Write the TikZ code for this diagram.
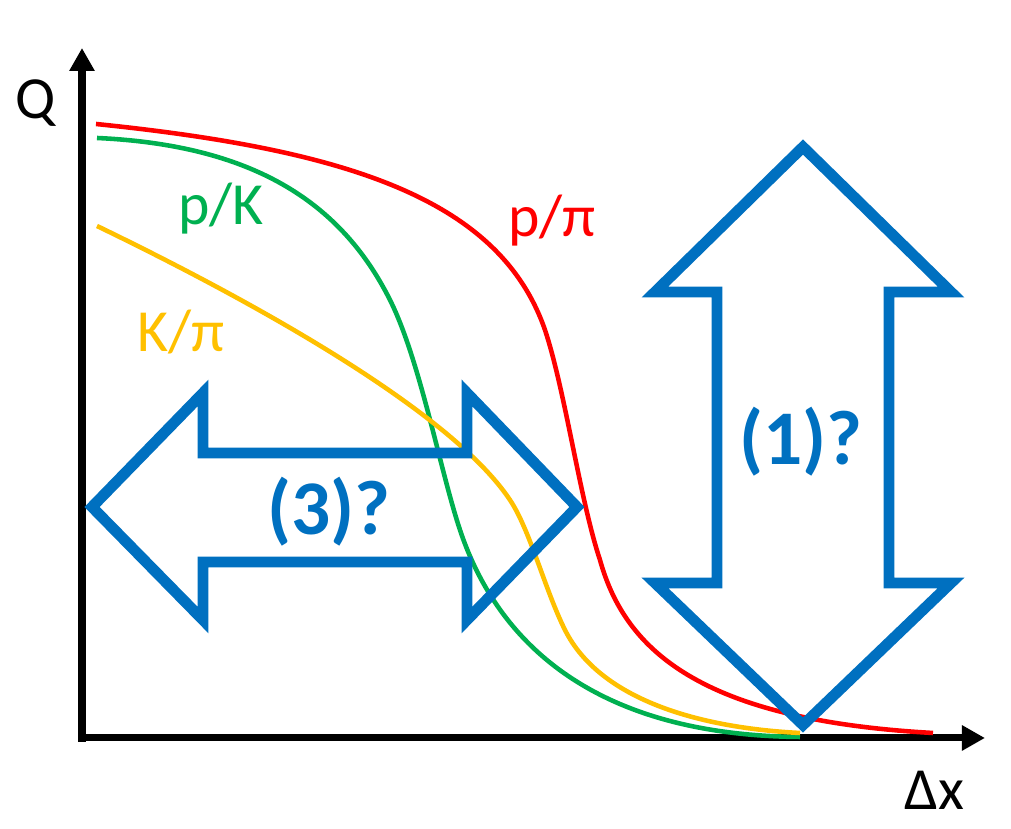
\documentclass[tikz,border=0pt]{standalone}
\usepackage{fontspec}
\setmainfont{Carlito}
\usetikzlibrary{arrows.meta}
\definecolor{ppired}{HTML}{FF0000}
\definecolor{pkgreen}{HTML}{00B050}
\definecolor{kpiorange}{HTML}{FFC000}
\definecolor{qblue}{HTML}{0070C0}
\begin{document}
\begin{tikzpicture}[x=0.1mm, y=-0.1mm,
  axis/.style={line width=2pt, -{Triangle[length=0.23cm, width=0.24cm]}},
  ratio/.style={line width=1.3pt},
  bigarrow/.style={draw=qblue, line width=3.1pt, line join=miter},
  qlabel/.style={text=qblue, font=\fontsize{22}{26}\selectfont\bfseries},
  axlabel/.style={font=\fontsize{17}{20}\selectfont, anchor=base west}]

  \useasboundingbox (0,0) rectangle (1011,829);

  \coordinate (origin) at (82,738);
  \coordinate (ytip) at (82,48);
  \coordinate (xtip) at (985,738);

  \draw[axis] ([yshift=-0.04cm]origin) -- (ytip);
  \draw[axis] ([xshift=-0.04cm]origin) -- (xtip);

  \node[axlabel] (qaxis) at (3,119) {Q};
  \node[axlabel] (dxaxis) at (892,810) {Δx};

  % ratio curves
  \draw[ratio, ppired] (96,124) .. controls (350,150) and (500,200) .. (545,330)
    .. controls (565,390) and (580,500) .. (600,560)
    .. controls (625,650) and (700,720) .. (933,733);
  \draw[ratio, pkgreen] (97,138) .. controls (250,145) and (340,200) .. (390,300)
    .. controls (420,360) and (440,470) .. (460,530)
    .. controls (490,620) and (570,735) .. (800,737);
  \draw[ratio, kpiorange] (97,226) .. controls (250,300) and (450,410) .. (510,500)
    .. controls (530,530) and (545,590) .. (565,630)
    .. controls (600,700) and (700,728) .. (800,733);

  \node[axlabel, text=pkgreen] (pk) at (166,225) {p/K};
  \node[axlabel, text=ppired] (ppi) at (496,237) {p/π};
  \node[axlabel, text=kpiorange] (kpi) at (125,352) {K/π};

  % (3) horizontal double arrow
  \draw[bigarrow] (92,507) -- (203,393) -- (203,453) -- (467,453) -- (467,393)
    -- (577,507) -- (467,620) -- (467,562) -- (203,562) -- (203,620) -- cycle;
  \node[qlabel] (three) at (329,512) {(3)?};

  % (1) vertical double arrow
  \draw[bigarrow] (803,147) -- (951,292) -- (889,292) -- (889,583) -- (951,583)
    -- (803,725) -- (655,583) -- (717,583) -- (717,292) -- (655,292) -- cycle;
  \node[qlabel] (one) at (801,442) {(1)?};

\end{tikzpicture}
\end{document}
